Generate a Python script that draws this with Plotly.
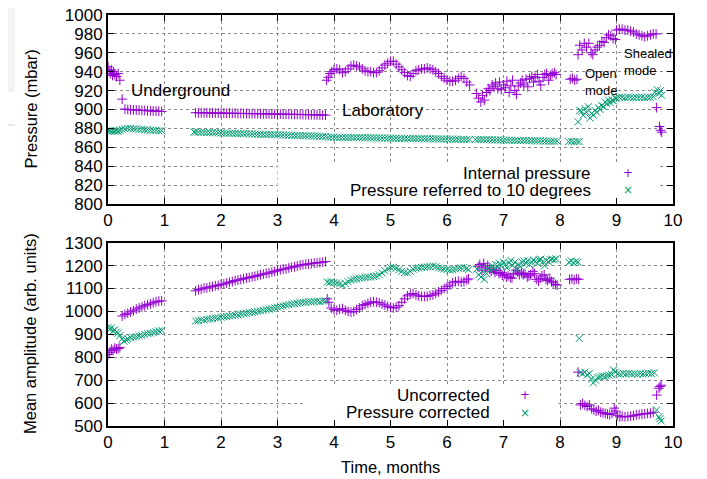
import plotly.graph_objects as go
from plotly.subplots import make_subplots

# ---------------- data ----------------
# Upper panel: internal pressure (mbar)
ip_t = [0.00, 0.02, 0.04, 0.06, 0.08, 0.10, 0.12, 0.15, 0.18, 0.21, 0.25,
        0.30, 0.35, 0.40, 0.45, 0.50, 0.55, 0.60, 0.65, 0.70, 0.75, 0.80, 0.85, 0.90, 0.95,
        1.55, 1.60, 1.65, 1.70, 1.75, 1.80, 1.85, 1.90, 1.95, 2.00, 2.05, 2.10, 2.15, 2.20,
        2.25, 2.30, 2.35, 2.40, 2.45, 2.50, 2.55, 2.60, 2.65, 2.70, 2.75, 2.80, 2.85, 2.90,
        2.95, 3.00, 3.05, 3.10, 3.15, 3.20, 3.25, 3.30, 3.35, 3.40, 3.45, 3.50, 3.55, 3.60,
        3.65, 3.70, 3.75, 3.80, 3.85,
        3.87, 3.90, 3.93, 3.96, 4.00, 4.05, 4.10, 4.15, 4.20, 4.25, 4.30, 4.35, 4.40, 4.45,
        4.50, 4.55, 4.60, 4.65, 4.70, 4.75, 4.80, 4.85, 4.90, 4.95, 5.00, 5.05, 5.10, 5.15,
        5.20, 5.25, 5.30, 5.35, 5.40, 5.45, 5.50, 5.55, 5.60, 5.65, 5.70, 5.75, 5.80, 5.85,
        5.90, 5.95, 6.00, 6.05, 6.10, 6.15, 6.20, 6.25, 6.30, 6.35, 6.40,
        6.52, 6.56, 6.60, 6.63, 6.66, 6.70, 6.73, 6.76, 6.80, 6.83, 6.86, 6.90, 6.93, 6.96,
        7.00, 7.03, 7.06, 7.10, 7.13, 7.16, 7.20, 7.23, 7.26, 7.30, 7.33, 7.36, 7.40, 7.43,
        7.46, 7.50, 7.53, 7.56, 7.60, 7.63, 7.66, 7.70, 7.73, 7.76, 7.80, 7.83, 7.86, 7.90, 7.93,
        8.18, 8.22, 8.26, 8.30,
        8.32, 8.35, 8.39, 8.43, 8.47, 8.51, 8.55, 8.58, 8.62, 8.66, 8.70, 8.74, 8.78, 8.82,
        8.86, 8.90, 8.94, 8.98,
        9.00, 9.05, 9.10, 9.15, 9.20, 9.25, 9.30, 9.35, 9.40, 9.45, 9.50, 9.55, 9.60, 9.65, 9.70,
        9.71, 9.76, 9.78, 9.80]
ip_v = [945, 941, 938, 942, 936, 940, 937, 935, 938, 931, 911,
        900.5, 900, 899.8, 899.5, 899.5, 899.2, 899, 899, 898.7, 898.6, 898.5, 898.3, 898.2, 898,
        896.6, 896.5, 896.7, 896.4, 896.5, 896.3, 896.4, 896.2, 896.3, 896.1, 896.2, 896.0, 896.1, 895.9,
        896.0, 895.8, 895.9, 895.7, 895.8, 895.6, 895.7, 895.5, 895.6, 895.4, 895.5, 895.3, 895.4, 895.2,
        895.3, 895.1, 895.1, 895.0, 895.0, 894.9, 894.9, 894.8, 894.8, 894.7, 894.6, 894.6, 894.5, 894.4,
        894.4, 894.3, 894.2, 894.2, 894.1,
        931, 934, 938, 940, 942, 943, 942, 939, 940, 943, 946, 947, 946, 945,
        943, 941, 940, 940, 939, 939, 941, 944, 947, 949, 951, 951, 948, 945,
        942, 939, 936, 935, 938, 941, 942, 943, 943, 944, 943, 942, 940, 938,
        935, 933, 931, 930, 930, 931, 933, 935, 933, 929, 926,
        917, 912, 908, 915, 910, 918, 922, 920, 926, 924, 928, 922, 929, 921,
        926, 923, 930, 918, 925, 931, 920, 916, 925, 928, 931, 926, 932, 924,
        933, 935, 929, 934, 937, 930, 926, 934, 937, 938, 931, 936, 938, 939, 937,
        932, 933, 931, 932,
        958, 968, 963, 970, 966, 970, 960, 958, 963, 966, 968, 972, 971, 976,
        979, 978, 975, 974,
        984, 985, 985, 984, 984, 983, 982, 980, 979, 978, 977, 978, 979, 980, 980,
        902, 882, 878, 876]

# Upper panel: pressure referred to 10 degrees (mbar)
pr_t = [0.00, 0.03, 0.06, 0.09, 0.12, 0.15, 0.18, 0.21,
        0.25, 0.30, 0.35, 0.40, 0.45, 0.50, 0.55, 0.60, 0.65, 0.70, 0.75, 0.80, 0.85, 0.90, 0.95,
        1.52, 1.55, 1.60, 1.65, 1.70, 1.75, 1.80, 1.85, 1.90, 1.95, 2.00, 2.05, 2.10, 2.15, 2.20,
        2.25, 2.30, 2.35, 2.40, 2.45, 2.50, 2.55, 2.60, 2.65, 2.70, 2.75, 2.80, 2.85, 2.90, 2.95,
        3.00, 3.05, 3.10, 3.15, 3.20, 3.25, 3.30, 3.35, 3.40, 3.45, 3.50, 3.55, 3.60, 3.65, 3.70,
        3.75, 3.80, 3.85,
        3.90, 3.95, 4.00, 4.05, 4.10, 4.15, 4.20, 4.25, 4.30, 4.35, 4.40, 4.45, 4.50, 4.55, 4.60,
        4.65, 4.70, 4.75, 4.80, 4.85, 4.90, 4.95, 5.00, 5.05, 5.10, 5.15, 5.20, 5.25, 5.30, 5.35,
        5.40, 5.45, 5.50, 5.55, 5.60, 5.65, 5.70, 5.75, 5.80, 5.85, 5.90, 5.95, 6.00, 6.05, 6.10,
        6.15, 6.20, 6.25, 6.30, 6.35, 6.40,
        6.50, 6.55, 6.60, 6.65, 6.70, 6.75, 6.80, 6.85, 6.90, 6.95, 7.00, 7.05, 7.10, 7.15, 7.20,
        7.25, 7.30, 7.35, 7.40, 7.45, 7.50, 7.55, 7.60, 7.65, 7.70, 7.75, 7.80, 7.85, 7.90, 7.95,
        8.15, 8.20, 8.25, 8.30, 8.34,
        8.32, 8.35, 8.38, 8.41, 8.44, 8.47, 8.50, 8.53, 8.56, 8.59, 8.62, 8.65, 8.68, 8.71, 8.74,
        8.77, 8.80, 8.83, 8.86, 8.89, 8.92, 8.95, 8.98,
        9.00, 9.05, 9.10, 9.15, 9.20, 9.25, 9.30, 9.35, 9.40, 9.45, 9.50, 9.55, 9.60, 9.65,
        9.68, 9.72, 9.75, 9.78, 9.80]
pr_v = [877, 877.5, 877, 877.5, 877, 877.5, 877, 878,
        879, 879.5, 880, 880, 879.5, 879.5, 879, 879, 878.5, 878.5, 878, 878, 878, 877.5, 877.5,
        876.2, 876.1, 876.0, 875.9, 875.8, 875.7, 875.6, 875.5, 875.4, 875.3, 875.2, 875.1, 875.0, 874.9, 874.8,
        874.7, 874.6, 874.5, 874.4, 874.3, 874.2, 874.1, 874.0, 873.9, 873.8, 873.7, 873.6, 873.5, 873.4, 873.3,
        873.2, 873.1, 873.0, 872.9, 872.8, 872.7, 872.6, 872.5, 872.4, 872.3, 872.2, 872.1, 872.0, 871.9, 871.8,
        871.7, 871.6, 871.5,
        870.6, 870.8, 870.7, 870.6, 870.6, 870.5, 870.5, 870.4, 870.4, 870.3, 870.3, 870.2, 870.2, 870.1, 870.1,
        870.0, 870.0, 869.9, 869.9, 869.8, 869.8, 869.7, 869.7, 869.6, 869.6, 869.5, 869.5, 869.4, 869.4, 869.3,
        869.3, 869.2, 869.2, 869.1, 869.1, 869.0, 869.0, 868.9, 868.9, 868.8, 868.8, 868.7, 868.7, 868.6, 868.6,
        868.5, 868.5, 868.4, 868.4, 868.3, 868.3,
        868.3, 868.2, 868.2, 868.1, 868.0, 868.0, 867.9, 867.8, 867.8, 867.7, 867.6, 867.6, 867.5, 867.4, 867.4,
        867.3, 867.2, 867.2, 867.1, 867.0, 867.0, 866.9, 866.8, 866.8, 866.7, 866.6, 866.6, 866.5, 866.4, 866.4,
        866.0, 866.2, 865.8, 866.1, 866.0,
        887, 899, 898, 894, 901, 897, 903, 891, 896, 894, 899, 897, 902, 900, 904,
        903, 908, 906, 910, 907, 910, 909, 912,
        912, 913, 913, 912.5, 913, 913, 912.5, 913, 913, 913, 912.5, 913, 913, 913.5,
        918, 921, 917, 920, 915]

# Lower panel: uncorrected mean amplitude (arb. units)
un_t = [0.00, 0.03, 0.06, 0.09, 0.12, 0.15, 0.18, 0.21,
        0.25, 0.30, 0.35, 0.40, 0.45, 0.50, 0.55, 0.60, 0.65, 0.70, 0.75, 0.80, 0.85, 0.90, 0.95,
        1.55, 1.60, 1.65, 1.70, 1.75, 1.80, 1.85, 1.90, 1.95, 2.00, 2.05, 2.10, 2.15, 2.20,
        2.25, 2.30, 2.35, 2.40, 2.45, 2.50, 2.55, 2.60, 2.65, 2.70, 2.75, 2.80, 2.85, 2.90,
        2.95, 3.00, 3.05, 3.10, 3.15, 3.20, 3.25, 3.30, 3.35, 3.40, 3.45, 3.50, 3.55, 3.60,
        3.65, 3.70, 3.75, 3.80, 3.85,
        3.88, 3.91, 3.95, 4.00, 4.05, 4.10, 4.15, 4.20, 4.25, 4.30, 4.35, 4.40, 4.45, 4.50,
        4.55, 4.60, 4.65, 4.70, 4.75, 4.80, 4.85, 4.90, 4.95, 5.00, 5.05, 5.10, 5.15, 5.20,
        5.25, 5.30, 5.35, 5.40, 5.45, 5.50, 5.55, 5.60, 5.65, 5.70, 5.75, 5.80, 5.85, 5.90,
        5.95, 6.00, 6.05, 6.10, 6.15, 6.20, 6.25, 6.30, 6.35, 6.38,
        6.55, 6.58, 6.62, 6.65, 6.68, 6.72, 6.75, 6.78, 6.82, 6.85, 6.88, 6.92, 6.95, 6.98,
        7.02, 7.05, 7.08, 7.12, 7.15, 7.18, 7.22, 7.25, 7.28, 7.32, 7.35, 7.38, 7.42, 7.45,
        7.48, 7.52, 7.55, 7.58, 7.62, 7.65, 7.68, 7.72, 7.75, 7.78, 7.82, 7.85, 7.88, 7.92, 7.95,
        8.17, 8.21, 8.25, 8.29, 8.33,
        8.32, 8.36, 8.40, 8.44, 8.48, 8.52, 8.56, 8.60, 8.64, 8.68, 8.72, 8.76, 8.80, 8.84,
        8.88, 8.92, 8.96, 8.99,
        9.02, 9.06, 9.10, 9.15, 9.20, 9.25, 9.30, 9.35, 9.40, 9.45, 9.50, 9.55, 9.60, 9.65,
        9.71, 9.75, 9.77, 9.79]
un_v = [812, 822, 835, 830, 840, 836, 838, 842,
        980, 987, 992, 998, 1003, 1010, 1015, 1020, 1025, 1030, 1033, 1038, 1042, 1045, 1046,
        1090, 1095, 1098, 1102, 1103, 1107, 1108, 1112, 1114, 1118, 1120, 1124, 1127, 1130,
        1135, 1137, 1140, 1143, 1146, 1148, 1151, 1153, 1157, 1160, 1163, 1166, 1168, 1172,
        1175, 1178, 1182, 1185, 1186, 1190, 1193, 1195, 1198, 1202, 1204, 1206, 1207, 1209,
        1211, 1212, 1213, 1215, 1218,
        1055, 1040, 1015, 1008, 1005, 1010, 1012, 1005, 1000, 997, 1000, 1008, 1015, 1025,
        1030, 1035, 1040, 1042, 1040, 1038, 1032, 1028, 1022, 1018, 1015, 1018, 1025, 1040,
        1055, 1068, 1075, 1078, 1072, 1068, 1066, 1065, 1066, 1070, 1072, 1078, 1085, 1092,
        1100, 1108, 1115, 1125, 1130, 1132, 1128, 1130, 1138, 1142,
        1195, 1205, 1180, 1210, 1190, 1200, 1185, 1175, 1182, 1170, 1178, 1165, 1170, 1158,
        1162, 1150, 1155, 1148, 1145, 1165, 1180, 1172, 1160, 1168, 1160, 1165, 1150, 1155,
        1160, 1175, 1165, 1140, 1132, 1145, 1155, 1160, 1140, 1135, 1145, 1130, 1125, 1118, 1115,
        1140, 1142, 1138, 1143, 1140,
        735, 592, 598, 590, 585, 592, 575, 570, 565, 568, 560, 558, 555, 552,
        550, 555, 578, 565,
        545, 540, 542, 540, 541, 543, 545, 548, 550, 552, 553, 555, 556, 560,
        635, 665, 672, 678]

# Lower panel: pressure corrected mean amplitude (arb. units)
pc_t = [0.00, 0.03, 0.06, 0.09, 0.12, 0.15, 0.18, 0.21,
        0.25, 0.28, 0.32, 0.35, 0.40, 0.45, 0.50, 0.55, 0.60, 0.65, 0.70, 0.75, 0.80, 0.85, 0.90, 0.95,
        1.55, 1.60, 1.65, 1.70, 1.75, 1.80, 1.85, 1.90, 1.95, 2.00, 2.05, 2.10, 2.15, 2.20,
        2.25, 2.30, 2.35, 2.40, 2.45, 2.50, 2.55, 2.60, 2.65, 2.70, 2.75, 2.80, 2.85, 2.90,
        2.95, 3.00, 3.05, 3.10, 3.15, 3.20, 3.25, 3.30, 3.35, 3.40, 3.45, 3.50, 3.55, 3.60,
        3.65, 3.70, 3.75, 3.80, 3.85,
        3.88, 3.92, 3.95, 4.00, 4.05, 4.10, 4.15, 4.20, 4.25, 4.30, 4.35, 4.40, 4.45, 4.50,
        4.55, 4.60, 4.65, 4.70, 4.75, 4.80, 4.85, 4.90, 4.95, 5.00, 5.05, 5.10, 5.15, 5.20,
        5.25, 5.30, 5.35, 5.40, 5.45, 5.50, 5.55, 5.60, 5.65, 5.70, 5.75, 5.80, 5.85, 5.90,
        5.95, 6.00, 6.05, 6.10, 6.15, 6.20, 6.25, 6.30, 6.35, 6.38,
        6.53, 6.56, 6.60, 6.63, 6.66, 6.70, 6.73, 6.76, 6.80, 6.83, 6.86, 6.90, 6.93, 6.96,
        7.00, 7.03, 7.06, 7.10, 7.13, 7.16, 7.20, 7.23, 7.26, 7.30, 7.33, 7.36, 7.40, 7.43,
        7.46, 7.50, 7.53, 7.56, 7.60, 7.63, 7.66, 7.70, 7.73, 7.76, 7.80, 7.83, 7.86, 7.90, 7.93,
        8.16, 8.20, 8.24, 8.28, 8.32,
        8.34, 8.36, 8.40, 8.44, 8.48, 8.52, 8.56, 8.59, 8.63, 8.67, 8.71, 8.75, 8.79, 8.83,
        8.87, 8.91, 8.95, 8.98,
        9.02, 9.07, 9.12, 9.17, 9.22, 9.27, 9.32, 9.37, 9.42, 9.47, 9.52, 9.57, 9.62, 9.67,
        9.71, 9.75, 9.77, 9.79]
pc_v = [930, 922, 928, 915, 920, 910, 905, 895,
        880, 870, 875, 880, 885, 888, 890, 893, 895, 900, 903, 905, 908, 912, 915, 918,
        958, 960, 963, 962, 966, 967, 969, 972, 972, 975, 977, 978, 980, 982,
        984, 985, 988, 990, 992, 995, 996, 998, 1000, 1002, 1005, 1008, 1010, 1013,
        1016, 1018, 1022, 1024, 1027, 1030, 1032, 1034, 1036, 1038, 1040, 1040, 1042, 1041,
        1043, 1044, 1042, 1045, 1046,
        1128, 1125, 1130, 1126, 1124, 1120, 1115, 1122, 1130, 1136, 1140, 1142, 1145, 1146,
        1148, 1150, 1150, 1152, 1155, 1160, 1168, 1178, 1185, 1192, 1193, 1188, 1182, 1175,
        1170, 1168, 1175, 1185, 1188, 1190, 1192, 1193, 1195, 1196, 1198, 1195, 1190, 1188,
        1185, 1183, 1180, 1182, 1185, 1188, 1190, 1192, 1188, 1182,
        1185, 1160, 1150, 1175, 1140, 1165, 1190, 1180, 1200, 1188, 1205, 1195, 1210, 1200,
        1215, 1205, 1190, 1212, 1222, 1200, 1215, 1185, 1205, 1195, 1215, 1220, 1210, 1222,
        1205, 1215, 1225, 1218, 1210, 1225, 1228, 1218, 1200, 1222, 1215, 1226, 1228, 1225, 1230,
        1215, 1220, 1212, 1218, 1215,
        882, 732, 728, 735, 722, 730, 705, 688, 700, 712, 715, 718, 716, 720,
        722, 725, 745, 735,
        728, 726, 730, 728, 729, 727, 728, 726, 729, 727, 728, 730, 729, 732,
        570, 540, 532, 522]

x_ticks = [0, 1, 2, 3, 4, 5, 6, 7, 8, 9, 10]
p_ticks = [800, 820, 840, 860, 880, 900, 920, 940, 960, 980, 1000]
a_ticks = [500, 600, 700, 800, 900, 1000, 1100, 1200, 1300]

# ---------------- style ----------------
PURPLE = "#9400d3"
GREEN = "#009e73"
FONT = "Liberation Sans, Arial, sans-serif"
W, H = 707, 479
OFF = 8  # the page body margin shifts the figure by 8 px
PL, PR, PT, PB = 108, 673, 15, 426  # plot area in page pixels
ML, MT = PL - OFF, PT - OFF
pw, ph = PR - PL, PB - PT
MR, MB = W - ML - pw, H - MT - ph

fig = make_subplots(rows=2, cols=1, vertical_spacing=0.0)


def add_series(t, v, color, symbol, row):
    fig.add_trace(go.Scatter(
        x=t, y=v, mode="markers", showlegend=False, hoverinfo="skip",
        marker=dict(symbol=symbol, size=7, color=color,
                    line=dict(color=color, width=1))), row=row, col=1)


add_series(ip_t, ip_v, PURPLE, "cross-thin", 1)
add_series(pr_t, pr_v, GREEN, "x-thin", 1)
add_series(un_t, un_v, PURPLE, "cross-thin", 2)
add_series(pc_t, pc_v, GREEN, "x-thin", 2)

axis_common = dict(
    showline=True, linecolor="black", linewidth=2, mirror="allticks",
    ticks="inside", ticklen=6, tickwidth=1, tickcolor="black",
    showgrid=True, gridcolor="#8a8a8a", griddash="dot", gridwidth=1,
    zeroline=False, automargin=False, ticklabeloverflow="allow",
    tickfont=dict(family=FONT, size=17, color="black"),
)

fig.update_xaxes(range=[0, 10], tickvals=x_ticks, **axis_common)
fig.update_yaxes(**axis_common)
fig.update_yaxes(range=[800, 1000], tickvals=p_ticks, row=1, col=1)
fig.update_yaxes(range=[500, 1300], tickvals=a_ticks, row=2, col=1)


def px_x(px):
    """page pixel x -> paper"""
    return (px - PL) / pw


def px_y(py):
    """page pixel y -> paper"""
    return (PB - py) / ph


fig.update_layout(
    yaxis=dict(domain=[px_y(204), 1.0]),
    yaxis2=dict(domain=[0.0, px_y(242.7)]),
)

annotations = [
    dict(text="Pressure (mbar)", x=px_x(30), y=px_y(109.5), textangle=-90, font_size=16.5),
    dict(text="Mean amplitude (arb. units)", x=px_x(30), y=px_y(334), textangle=-90, font_size=16.5),
    dict(text="Time, months", x=0.5, y=px_y(467), font_size=16.5),
]
for a in annotations:
    a.update(xref="paper", yref="paper", showarrow=False,
             xanchor="center", yanchor="middle")
    a["font"] = dict(family=FONT, size=a.pop("font_size"), color="black")

labels = [
    dict(text="Underground", x=0.37, y=919.6, xref="x", yref="y", size=17),
    dict(text="Laboratory", x=4.1, y=898.7, xref="x", yref="y", size=17),
    dict(text="Open<br>mode", x=8.41, y=929.6, xref="x", yref="y", size=13),
    dict(text="Shealed<br>mode", x=9.09, y=950.6, xref="x", yref="y", size=13),
]
for l in labels:
    annotations.append(dict(text=l["text"], x=l["x"], y=l["y"], xref=l["xref"], yref=l["yref"],
                            showarrow=False, xanchor="left", yanchor="middle", align="left",
                            font=dict(family=FONT, size=l["size"], color="black")))

keys = [
    ("Internal pressure", 8.58, 832.8, "x", "y", "+", PURPLE, 9.2),
    ("Pressure referred to 10 degrees", 8.58, 814.8, "x", "y", "\u00d7", GREEN, 9.2),
    ("Uncorrected", 6.8, 634, "x2", "y2", "+", PURPLE, 7.38),
    ("Pressure corrected", 6.8, 557, "x2", "y2", "\u00d7", GREEN, 7.38),
]
for text, kx, ky, xr, yr, sym, col, sx in keys:
    annotations.append(dict(text=text, x=kx, y=ky, xref=xr, yref=yr, showarrow=False,
                            xanchor="right", yanchor="middle",
                            font=dict(family=FONT, size=17, color="black")))
    annotations.append(dict(text=sym, x=sx, y=ky, xref=xr, yref=yr, showarrow=False,
                            xanchor="center", yanchor="middle",
                            font=dict(family="DejaVu Sans, sans-serif", size=12, color=col)))

shapes = [
    # key areas blank the grid (drawn between grid and data)
    dict(type="rect", xref="x", yref="y", x0=3.0, x1=9.75, y0=800, y1=842,
         fillcolor="white", line_width=0, layer="between"),
    dict(type="rect", xref="x2", yref="y2", x0=3.5, x1=7.97, y0=500, y1=672,
         fillcolor="white", line_width=0, layer="between"),
    # faint screenshot background fragments around the figure
    dict(type="rect", xref="paper", yref="paper", x0=px_x(0), x1=px_x(15), y0=px_y(92), y1=px_y(0),
         fillcolor="#f3f3f3", line_width=0, layer="below"),
    dict(type="rect", xref="paper", yref="paper", x0=px_x(701), x1=px_x(710), y0=px_y(90), y1=px_y(0),
         fillcolor="#f3f3f3", line_width=0, layer="below"),
    dict(type="line", xref="paper", yref="paper", x0=px_x(0), x1=px_x(15), y0=px_y(125), y1=px_y(125),
         line=dict(color="#d0d0d0", width=1), layer="below"),
    dict(type="line", xref="paper", yref="paper", x0=px_x(701), x1=px_x(710), y0=px_y(125), y1=px_y(125),
         line=dict(color="#d0d0d0", width=1), layer="below"),
]

fig.update_layout(
    width=W, height=H,
    margin=dict(l=ML, r=MR, t=MT, b=MB, pad=0, autoexpand=False),
    paper_bgcolor="white", plot_bgcolor="white",
    font=dict(family=FONT, size=17, color="black"),
    annotations=annotations, shapes=shapes,
    showlegend=False,
)

fig.write_html("out.html")
